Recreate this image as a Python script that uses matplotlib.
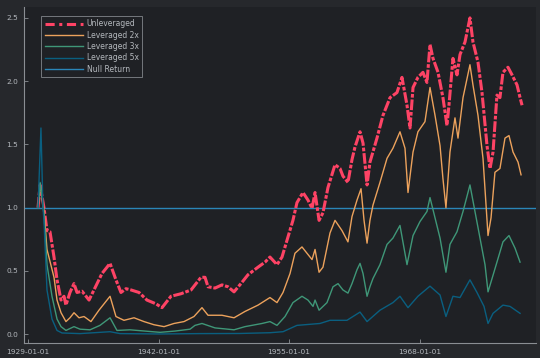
import matplotlib
matplotlib.use("Agg")
import matplotlib.pyplot as plt
from datetime import datetime, timedelta

# ---- data (decimal years, growth of 1.0) ----
unlev_t = [1930.0, 1930.2, 1930.59, 1930.89, 1931.19, 1931.59, 1931.89, 1932.29, 1932.59, 1932.78,
           1933.18, 1933.58, 1933.88, 1934.38, 1935.08, 1935.57, 1936.37, 1937.17, 1937.76, 1938.26,
           1938.76, 1939.26, 1940.06, 1940.85, 1941.75, 1942.35, 1943.24, 1944.24, 1945.24, 1946.23,
           1946.63, 1946.93, 1947.63, 1948.32, 1948.92, 1949.52, 1950.31, 1950.91, 1951.91, 1952.61,
           1953.10, 1953.80, 1954.30, 1954.90, 1955.39, 1955.79, 1956.39, 1956.89, 1957.29, 1957.59,
           1957.99, 1958.38, 1958.88, 1959.58, 1960.08, 1960.37, 1960.87, 1961.27, 1961.57, 1962.07,
           1962.37, 1962.77, 1963.06, 1963.76, 1964.36, 1965.06, 1965.75, 1966.25, 1966.75, 1967.05,
           1967.35, 1967.84, 1968.34, 1968.74, 1969.04, 1969.34, 1969.84, 1970.33, 1970.73, 1970.93,
           1971.33, 1971.73, 1972.03, 1972.53, 1973.02, 1973.32, 1973.82, 1974.22, 1974.72, 1975.02,
           1975.32, 1975.71, 1976.01, 1976.31, 1976.81, 1977.21, 1977.71, 1978.01, 1978.21]
unlev = [1.00, 1.18, 1.00, 0.82, 0.81, 0.61, 0.43, 0.27, 0.30, 0.23,
         0.33, 0.40, 0.33, 0.34, 0.27, 0.35, 0.48, 0.56, 0.43, 0.33,
         0.36, 0.35, 0.33, 0.27, 0.24, 0.21, 0.30, 0.32, 0.35, 0.45,
         0.45, 0.375, 0.365, 0.39, 0.375, 0.335, 0.41, 0.47, 0.53, 0.57,
         0.61, 0.55, 0.61, 0.77, 0.90, 1.04, 1.12, 1.06, 0.995, 1.12,
         0.90, 0.96, 1.16, 1.34, 1.31, 1.25, 1.20, 1.38, 1.48, 1.60,
         1.51, 1.18, 1.36, 1.55, 1.73, 1.87, 1.91, 2.03, 1.81, 1.63,
         1.95, 2.03, 2.07, 1.99, 2.29, 2.18, 2.07, 1.87, 1.65, 1.81,
         2.18, 2.05, 2.21, 2.31, 2.50, 2.31, 2.15, 1.91, 1.49, 1.31,
         1.44, 1.89, 1.87, 2.07, 2.11, 2.05, 1.97, 1.87, 1.81]

lev2_t = [1930.0, 1930.2, 1930.59, 1930.89, 1931.59, 1931.89, 1932.29, 1932.78, 1933.18, 1933.58,
          1934.08, 1934.58, 1935.27, 1936.07, 1937.17, 1937.76, 1938.56, 1939.56, 1940.55, 1941.55,
          1942.55, 1943.54, 1944.54, 1945.53, 1946.33, 1946.93, 1948.32, 1949.52, 1950.61, 1951.91,
          1953.10, 1953.80, 1954.40, 1955.10, 1955.59, 1956.29, 1956.79, 1957.29, 1957.59, 1957.99,
          1958.38, 1959.08, 1959.58, 1960.27, 1960.87, 1961.27, 1961.77, 1962.17, 1962.47, 1962.77,
          1963.06, 1963.36, 1964.06, 1964.76, 1965.35, 1966.05, 1966.55, 1966.85, 1967.35, 1967.84,
          1968.54, 1969.04, 1969.54, 1970.04, 1970.33, 1970.63, 1971.03, 1971.53, 1971.83, 1972.33,
          1973.02, 1973.32, 1973.82, 1974.32, 1974.82, 1975.12, 1975.51, 1976.01, 1976.51, 1976.91,
          1977.31, 1977.81, 1978.11]
lev2 = [1.00, 1.19, 0.98, 0.67, 0.45, 0.27, 0.17, 0.10, 0.13, 0.17,
        0.13, 0.14, 0.10, 0.19, 0.30, 0.14, 0.11, 0.13, 0.10, 0.075,
        0.06, 0.085, 0.10, 0.14, 0.21, 0.15, 0.15, 0.13, 0.18, 0.23,
        0.29, 0.25, 0.33, 0.48, 0.64, 0.69, 0.64, 0.59, 0.67, 0.49,
        0.53, 0.80, 0.90, 0.82, 0.73, 0.93, 1.06, 1.15, 0.90, 0.72,
        0.90, 1.02, 1.20, 1.39, 1.47, 1.60, 1.47, 1.12, 1.44, 1.60,
        1.68, 1.95, 1.73, 1.49, 1.23, 1.00, 1.44, 1.71, 1.55, 1.87,
        2.13, 1.97, 1.73, 1.39, 0.78, 0.92, 1.28, 1.31, 1.55, 1.57,
        1.44, 1.36, 1.26]

lev3_t = [1930.0, 1930.2, 1930.59, 1930.89, 1931.39, 1931.89, 1932.29, 1932.78, 1933.58, 1934.18,
          1935.18, 1936.17, 1937.17, 1937.86, 1939.16, 1940.65, 1942.15, 1943.64, 1945.14, 1945.63,
          1946.33, 1947.63, 1949.52, 1950.61, 1952.31, 1953.10, 1953.80, 1954.60, 1955.39, 1956.29,
          1956.89, 1957.39, 1957.59, 1957.99, 1958.78, 1959.38, 1959.88, 1960.37, 1960.87, 1961.27,
          1961.77, 1962.07, 1962.37, 1962.77, 1963.06, 1963.36, 1964.06, 1964.76, 1965.35, 1966.05,
          1966.75, 1967.35, 1968.04, 1968.74, 1969.04, 1969.54, 1970.04, 1970.63, 1971.03, 1971.73,
          1972.33, 1973.02, 1973.52, 1974.02, 1974.52, 1974.82, 1975.22, 1975.71, 1976.31, 1976.91,
          1977.51, 1978.01]
lev3 = [1.00, 1.20, 0.95, 0.55, 0.30, 0.12, 0.06, 0.03, 0.06, 0.04,
        0.035, 0.07, 0.13, 0.03, 0.035, 0.025, 0.015, 0.025, 0.04, 0.07,
        0.085, 0.05, 0.035, 0.06, 0.085, 0.10, 0.07, 0.14, 0.25, 0.30,
        0.27, 0.22, 0.27, 0.19, 0.25, 0.375, 0.40, 0.35, 0.325, 0.40,
        0.51, 0.56, 0.48, 0.30, 0.375, 0.44, 0.55, 0.71, 0.76, 0.86,
        0.55, 0.78, 0.89, 0.97, 1.08, 0.92, 0.76, 0.49, 0.71, 0.81,
        0.97, 1.18, 0.97, 0.76, 0.55, 0.335, 0.44, 0.57, 0.73, 0.78,
        0.68, 0.57]

lev5_t = [1930.0, 1930.29, 1930.49, 1930.59, 1930.89, 1931.39, 1931.89, 1932.39, 1934.18, 1937.17,
          1938.16, 1942.15, 1946.13, 1950.12, 1953.10, 1954.40, 1955.79, 1958.08, 1959.08, 1960.77,
          1962.07, 1962.77, 1964.06, 1965.35, 1966.05, 1966.85, 1967.84, 1969.04, 1970.04, 1970.63,
          1971.33, 1972.03, 1973.02, 1973.72, 1974.42, 1974.82, 1975.32, 1976.31, 1977.01, 1978.01]
lev5 = [1.00, 1.63, 1.00, 0.90, 0.35, 0.12, 0.03, 0.01, 0.005, 0.02,
        0.005, 0.002, 0.005, 0.006, 0.012, 0.02, 0.07, 0.085, 0.11, 0.11,
        0.175, 0.10, 0.19, 0.25, 0.30, 0.21, 0.30, 0.38, 0.31, 0.14,
        0.30, 0.29, 0.43, 0.33, 0.22, 0.085, 0.165, 0.23, 0.22, 0.165]

null_return = 1.0

x_ticks = ["1929-01-01", "1942-01-01", "1955-01-01", "1968-01-01"]
y_ticks = [0.0, 0.5, 1.0, 1.5, 2.0, 2.5]


def to_dt(y):
    yi = int(y)
    return datetime(yi, 1, 1) + timedelta(days=(y - yi) * 365.25)


BG = "#26282c"
BGIN = "#1f2125"
FG = "#b4b8bd"

fig = plt.figure(figsize=(5.4, 3.58), dpi=100, facecolor=BG)
ax = fig.add_axes([0.0444, 0.042, 0.9482, 0.938], facecolor=BGIN)

ax.plot([to_dt(t) for t in unlev_t], unlev, color="#fe4365", lw=2.2,
        linestyle=(0, (3.5, 0.6, 1.2, 0.6)), label="Unleveraged", zorder=3)
ax.plot([to_dt(t) for t in lev2_t], lev2, color="#eca25c", lw=1.0, label="Leveraged 2x", zorder=4)
ax.plot([to_dt(t) for t in lev3_t], lev3, color="#3f9778", lw=1.0, label="Leveraged 3x", zorder=5)
ax.plot([to_dt(t) for t in lev5_t], lev5, color="#0a5f80", lw=1.0, label="Leveraged 5x", zorder=6)
ax.axhline(null_return, color="#2a86b8", lw=1.0, label="Null Return", zorder=2)

ax.set_xlim(to_dt(1928.6), to_dt(1979.6))
ax.set_ylim(-0.069, 2.585)
ax.set_xticks([datetime.strptime(s, "%Y-%m-%d") for s in x_ticks])
ax.set_xticklabels(x_ticks)
ax.set_yticks(y_ticks)
ax.set_yticklabels([f"{v:.1f}" for v in y_ticks])

for s in ["top", "right"]:
    ax.spines[s].set_visible(False)
for s in ["left", "bottom"]:
    ax.spines[s].set_color("#8a8e93")
    ax.spines[s].set_linewidth(0.8)
ax.tick_params(direction="in", length=3, width=0.6, color="#8a8e93",
               labelcolor=FG, labelsize=5.3, pad=4)

leg = ax.legend(loc="upper left", bbox_to_anchor=(0.026, 0.985), fontsize=5.5,
                frameon=True, fancybox=False, facecolor=BGIN, edgecolor="#8a8e93",
                labelcolor=FG, handlelength=5.0, handletextpad=0.5, borderpad=0.45,
                labelspacing=0.3)
leg.get_frame().set_linewidth(0.7)
leg.legend_handles[0].set_linestyle((0, (3, 1.5, 1, 1.5)))

fig.savefig("out.png", dpi=100, facecolor=BG)
